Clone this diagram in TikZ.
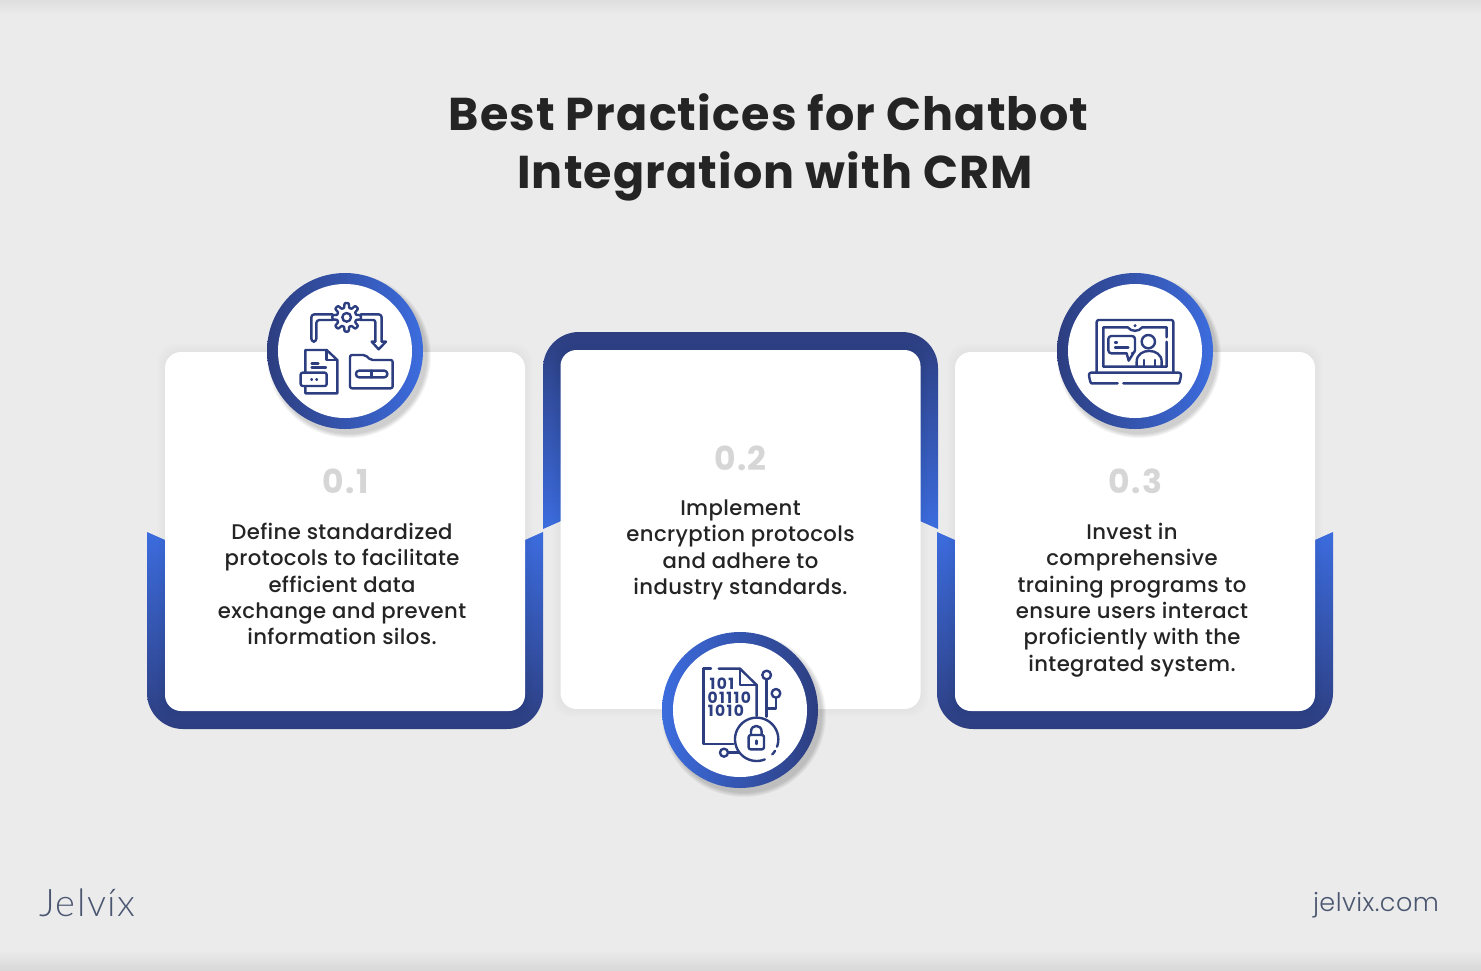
\documentclass[tikz,border=0pt]{standalone}
\usepackage{xcolor}
\usepackage{fontspec}
\setmainfont{Poppins}
\newfontfamily\logofont[LetterSpace=4]{Lato Light}
\newfontfamily\sitefont{Poppins Light}
\newfontfamily\bodyfont[LetterSpace=1.8]{Poppins Medium}
\usetikzlibrary{positioning}
\definecolor{pageback}{HTML}{EBEBEB}
\definecolor{navy}{HTML}{2D3E80}
\definecolor{brightblue}{HTML}{3C6CDE}
\definecolor{inkdark}{HTML}{242424}
\definecolor{numgray}{HTML}{D6D6D6}
\definecolor{logoslate}{HTML}{4A5670}

\begin{document}
\begin{tikzpicture}[x=1pt, y=-1pt, align=center]
	\tikzstyle{cardbox}=[fill=white, rounded corners=16pt, minimum width=360pt, minimum height=359pt, inner sep=0pt]
	\tikzstyle{titletext}=[text=inkdark, anchor=base, font=\fontsize{46}{58}\selectfont\bfseries\addfontfeatures{LetterSpace=2.5}, inner sep=0pt]
	\tikzstyle{numtext}=[text=numgray, font=\fontsize{33}{36}\selectfont\bfseries\addfontfeatures{LetterSpace=4}, inner sep=0pt]
	\tikzstyle{bodytext}=[text=inkdark, font=\bodyfont\fontsize{21.2}{26.4}\selectfont, inner sep=0pt]
	\tikzstyle{ringl}=[circle, minimum size=156pt, inner sep=0pt, left color=navy, right color=brightblue]
	\tikzstyle{ringr}=[circle, minimum size=156pt, inner sep=0pt, left color=brightblue, right color=navy]
	\tikzstyle{disc}=[circle, fill=white, minimum size=134pt, inner sep=0pt]
	\tikzstyle{iconline}=[draw=navy, line width=2.4pt, line cap=round, line join=round]
	\tikzstyle{bits}=[text=navy, font=\fontsize{15.5}{18}\selectfont\bfseries\addfontfeatures{LetterSpace=9}, inner sep=0pt]

	% page
	\fill[pageback] (0,0) rectangle (1481,970);
	\shade[top color=black!13, bottom color=pageback, draw=none] (0,0) rectangle (1481,14);
	\shade[top color=pageback, bottom color=black!15, draw=none] (0,950) rectangle (1481,970);

	% title
	\node[titletext] (titleA) at (768.5,130) {Best Practices for Chatbot};
	\node[titletext] (titleB) at (775,188) {Integration with CRM};

	% frames
	\shade[top color=brightblue, bottom color=navy] (147,532) -- (165,540) -- (525,540) -- (543,532) -- (543,600) [rounded corners=36pt] -- (543,729) -- (147,729) -- (147,600) [sharp corners] -- cycle;
	\shade[top color=navy, bottom color=brightblue] (543,529) -- (561,521) -- (920,521) -- (938,529) -- (938,450) [rounded corners=36pt] -- (938,332) -- (543,332) -- (543,450) [sharp corners] -- cycle;
	\shade[top color=brightblue, bottom color=navy] (937,532) -- (955,540) -- (1315,540) -- (1333,532) -- (1333,600) [rounded corners=36pt] -- (1333,729) -- (937,729) -- (937,600) [sharp corners] -- cycle;

	% card shadows
	\foreach \cx/\cy in {345/531.5, 740.5/529.5, 1135/531.5}{
		\foreach \g in {8,6,4,2}{
			\fill[black, opacity=0.008, rounded corners=18pt] (\cx-180-\g,\cy-179.5-\g) rectangle (\cx+180+\g,\cy+179.5+\g);
		}
	}

	% cards
	\node[cardbox] (cardA) at (345,531.5) {};
	\node[cardbox] (cardB) at (740.5,529.5) {};
	\node[cardbox] (cardC) at (1135,531.5) {};

	% ring shadows
	\foreach \cx/\cy in {345/351, 740/710, 1135/351}{
		\foreach \g in {5,4,3,2,1}{
			\fill[black, opacity=0.04] (\cx+4,\cy+5) circle (77+\g);
		}
	}

	% rings
	\node[ringl] (ringA) at (345,351) {};
	\node[disc] (discA) at (345,351) {};
	\node[ringr] (ringB) at (740,710) {};
	\node[disc] (discB) at (740,710) {};
	\node[ringl] (ringC) at (1135,351) {};
	\node[disc] (discC) at (1135,351) {};

	% numbers
	\node[numtext] (numA) at (345.5,481) {0.1};
	\node[numtext] (numB) at (740.5,458) {0.2};
	\node[numtext] (numC) at (1135.5,481) {0.3};

	% texts
	\node[bodytext] (textA) at (342,584) {Define standardized\\protocols to facilitate\\efficient data\\exchange and prevent\\information silos.};
	\node[bodytext] (textB) at (740.5,550) {Implement\\encryption protocols\\and adhere to\\industry standards.};
	\node[bodytext] (textC) at (1132,600) {Invest in\\comprehensive\\training programs to\\ensure users interact\\proficiently with the\\integrated system.};

	% gear, documents, folder
	\begin{scope}[shift={(250,260)}, x=0.3333pt, y=-0.3333pt]
		\draw[iconline] plot[samples=145, domain=0:360, shift={(290,172)}] (\x:{36+7*tanh(2.5*cos(8*\x))}) -- cycle;
		\draw[iconline] (290,172) circle (13);
		\draw[iconline, rounded corners=3pt] (248,163) -- (184,163) -- (184,245) -- (199,245) -- (199,180) -- (248,180);
		\draw[iconline, rounded corners=3pt] (332,163) -- (395,163) -- (395,245);
		\draw[iconline] (395,245) -- (408,245) -- (386,268) -- (365,245) -- (376,245);
		\draw[iconline, rounded corners=2pt] (376,245) -- (376,180) -- (332,180);
		\draw[iconline] (166,336) -- (166,270) -- (230,270) -- (262,300) -- (262,400) -- (166,400) -- (166,380);
		\draw[iconline] (230,270) -- (230,300) -- (262,300);
		\draw[iconline] (185,310) -- (205,310) (185,323) -- (228,323);
		\draw[iconline, rounded corners=2pt] (152,338) rectangle (230,378);
		\draw[iconline] (184,358) -- (186,358) (199,358) -- (201,358);
		\draw[iconline, rounded corners=2pt] (300,385) -- (300,285) -- (346,285) -- (362,300) -- (428,300) -- (428,385) -- cycle;
		\draw[iconline, rounded corners=3pt] (318,332) rectangle (412,352);
		\draw[iconline] (365,332) -- (365,352);
	\end{scope}

	% binary file with lock
	\begin{scope}[shift={(650,620)}, x=0.3333pt, y=-0.3333pt]
		\draw[iconline] (183,146) -- (160,146) -- (160,372) -- (250,372);
		\draw[iconline] (206,146) -- (270,146) -- (320,195) -- (320,288);
		\draw[iconline] (270,146) -- (270,195) -- (320,195);
		\node[bits] (bitsA) at (216,190) {101};
		\node[bits] (bitsB) at (238,232) {01110};
		\node[bits] (bitsC) at (228,272) {1010};
		\draw[iconline] (350,165) circle (13);
		\draw[iconline] (350,178) -- (350,290);
		\draw[iconline] (378,220) circle (13);
		\draw[iconline] (378,233) -- (378,266) -- (350,266);
		\draw[iconline] (222,398) circle (12);
		\draw[iconline] (234,398) -- (268,398);
		\draw[iconline] plot[samples=60, domain=68:380, shift={(320,358)}] (\x:65);
		\draw[iconline] plot[samples=6, domain=32:44, shift={(320,358)}] (\x:65);
		\draw[iconline, rounded corners=2pt] (296,345) rectangle (342,388);
		\draw[iconline] (303,345) -- (303,335) .. controls (303,312) and (335,312) .. (335,335) -- (335,345);
		\draw[iconline] (319,362) -- (319,372);
	\end{scope}

	% laptop with chat
	\begin{scope}[shift={(1045,260)}, x=0.3333pt, y=-0.3333pt]
		\draw[iconline, rounded corners=2pt] (155,336) -- (155,180) -- (385,180) -- (385,336);
		\draw[iconline] (365,232) -- (365,202) -- (292,202) .. controls (280,216) and (260,216) .. (248,202) -- (175,202) -- (175,320) -- (365,320) -- (365,245);
		\fill[navy] (270,197) circle (5);
		\draw[iconline, rounded corners=2pt] (218,370) -- (145,370) .. controls (136,370) and (132,350) .. (132,338) -- (408,338) .. controls (408,350) and (404,370) .. (395,370) -- (235,370);
		\draw[iconline, rounded corners=3pt] (245,280) -- (190,280) -- (190,228) -- (270,228) -- (270,280) -- (265,280);
		\draw[iconline] (245,280) -- (251,302) -- (265,280);
		\draw[iconline] (210,247) -- (216,247) (210,262) -- (250,262);
		\draw[iconline] (310,245) circle (20);
		\draw[iconline] (275,318) -- (275,305) .. controls (275,262) and (350,262) .. (350,305) -- (350,318);
		\draw[iconline] (297,300) -- (297,318) (330,300) -- (330,318);
	\end{scope}

	% footer
	\node[text=logoslate, font=\logofont\fontsize{38}{40}\selectfont, inner sep=0pt] (logo) at (87.5,903) {Jelvíx};
	\node[text=logoslate, anchor=base, font=\sitefont\fontsize{25.5}{30}\selectfont\addfontfeatures{LetterSpace=1.7}, inner sep=0pt] (site) at (1376,911) {jelvix.com};

	\useasboundingbox (0,0) rectangle (1481,970);
\end{tikzpicture}
\end{document}
